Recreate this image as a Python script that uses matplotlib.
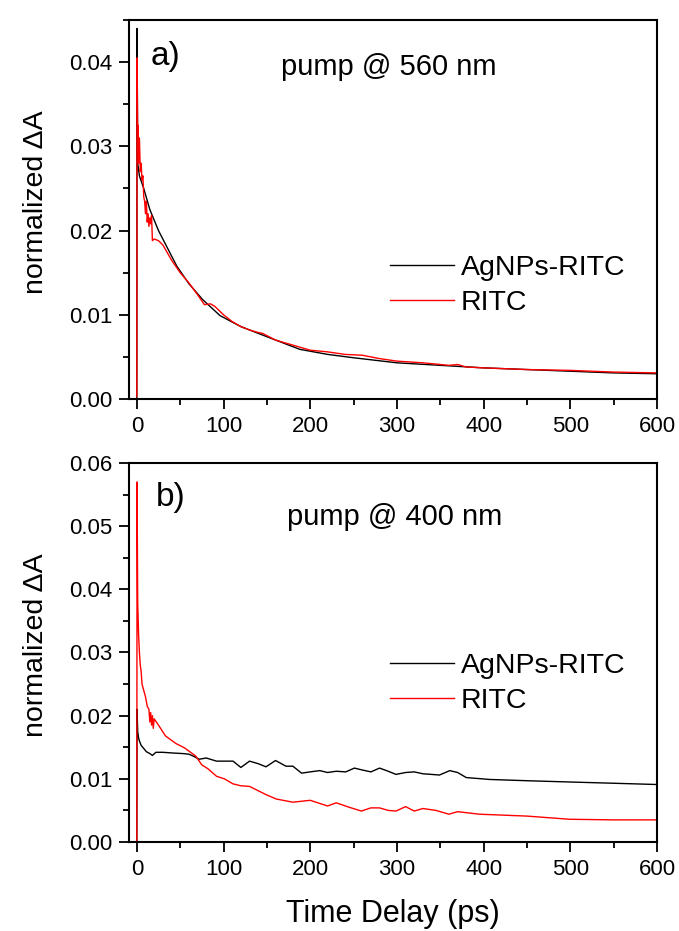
import matplotlib
matplotlib.use("Agg")
import matplotlib.pyplot as plt
from matplotlib.ticker import MultipleLocator, FormatStrFormatter

plt.rcParams['font.family'] = ['Liberation Sans', 'DejaVu Sans']

# ---- data: panel a) pump @ 560 nm ----
t_a_ag = [0, 0.3, 1, 3, 8, 15, 25, 35, 46, 60, 76, 96, 120, 150, 188, 220, 250,
          300, 350, 400, 450, 500, 550, 600]
v_a_ag = [0.0, 0.044, 0.028, 0.0265, 0.025, 0.0225, 0.0200, 0.0180, 0.0158, 0.0137,
          0.0118, 0.0099, 0.0086, 0.0074, 0.0059, 0.0053, 0.0049, 0.0043, 0.0040,
          0.0037, 0.0035, 0.0033, 0.0031, 0.0030]

t_a_ritc = [0, 0.3, 1, 1.5, 2, 3, 4, 5, 6, 7, 8, 9, 10, 11, 12, 13, 14, 15, 16, 17,
            18, 20, 25, 30, 40, 50, 60, 70, 78, 85, 90, 100, 110, 120, 130, 140, 145,
            160, 180, 200, 220, 240, 260, 280, 300, 330, 360, 370, 380, 400, 450,
            500, 550, 600]
v_a_ritc = [0.0003, 0.0405, 0.031, 0.0325, 0.028, 0.031, 0.027, 0.028, 0.026,
            0.0265, 0.024, 0.0235, 0.022, 0.0235, 0.021, 0.022, 0.0205, 0.0215,
            0.0208, 0.0218, 0.0188, 0.0190, 0.0188, 0.0183, 0.0165, 0.0150, 0.0138,
            0.0124, 0.0112, 0.0113, 0.0110, 0.0100, 0.0092, 0.0086, 0.0082, 0.0079,
            0.0078, 0.0070, 0.0064, 0.0058, 0.0056, 0.0053, 0.0052, 0.0048, 0.0045,
            0.0043, 0.0040, 0.0041, 0.0038, 0.0037, 0.0035, 0.0034, 0.0032, 0.0031]

# ---- data: panel b) pump @ 400 nm ----
t_b_ag = [0, 0.3, 1, 2, 3, 5, 8, 11, 15, 18, 22, 30, 40, 53, 60, 65, 72, 80, 92,
          100, 111, 120, 130, 140, 149, 160, 172, 180, 190, 200, 211, 220, 230, 241,
          251, 260, 270, 280, 290, 299, 310, 320, 330, 340, 349, 361, 370, 380,
          407, 450, 499, 550, 600]
v_b_ag = [0.0, 0.021, 0.0175, 0.0165, 0.016, 0.0153, 0.0148, 0.0143, 0.0140,
          0.0137, 0.0142, 0.0142, 0.0141, 0.0140, 0.0139, 0.0136, 0.0131, 0.0133,
          0.0128, 0.0128, 0.0128, 0.0118, 0.0128, 0.0124, 0.0119, 0.0129, 0.0120,
          0.0120, 0.0109, 0.0111, 0.0113, 0.0110, 0.0112, 0.0111, 0.0117, 0.0114,
          0.0111, 0.0117, 0.0112, 0.0107, 0.0110, 0.0111, 0.0108, 0.0107, 0.0106,
          0.0113, 0.0110, 0.0102, 0.0099, 0.0097, 0.0095, 0.0093, 0.0091]

t_b_ritc = [0, 0.3, 1, 2, 3, 4, 5, 6, 8, 10, 12, 14, 15, 16, 17, 18, 19, 20, 25, 33,
            45, 55, 63, 68, 75, 82, 92, 101, 111, 120, 130, 149, 161, 180, 200, 220,
            230, 245, 259, 270, 280, 290, 299, 310, 320, 330, 345, 360, 370, 395,
            450, 499, 550, 600]
v_b_ritc = [0.0, 0.057, 0.038, 0.033, 0.030, 0.028, 0.027, 0.025, 0.024, 0.023,
            0.0215, 0.021, 0.019, 0.0205, 0.0185, 0.020, 0.0180, 0.0195, 0.0185,
            0.0168, 0.0156, 0.0149, 0.0141, 0.0136, 0.0122, 0.0116, 0.0104, 0.0100,
            0.0092, 0.0089, 0.0088, 0.0075, 0.0068, 0.0063, 0.0066, 0.0057, 0.0062,
            0.0055, 0.0049, 0.0054, 0.0054, 0.0050, 0.0049, 0.0056, 0.0049, 0.0053,
            0.0050, 0.0044, 0.0048, 0.0044, 0.0041, 0.0036, 0.0035, 0.0035]

labels = ["AgNPs-RITC", "RITC"]
panel_tags = ["a)", "b)"]
pump_texts = ["pump @ 560 nm", "pump @ 400 nm"]
x_label = "Time Delay (ps)"
y_label = "normalized \u0394A"

fig = plt.figure(figsize=(6.79, 9.31), dpi=100)
ax1 = fig.add_axes([0.190, 0.5714, 0.7776, 0.4071])
ax2 = fig.add_axes([0.190, 0.0956, 0.7776, 0.4071])

panels = [
    (ax1, t_a_ag, v_a_ag, t_a_ritc, v_a_ritc, 0.045, 0.01,
     (0.040, 0.881), (0.288, 0.855), 0.381),
    (ax2, t_b_ag, v_b_ag, t_b_ritc, v_b_ritc, 0.06, 0.01,
     (0.050, 0.8865), (0.300, 0.8356), 0.499),
]

for i, (ax, ta, va, tr, vr, ymax, ystep, tagpos, pumppos, legy) in enumerate(panels):
    ax.plot(ta, va, color='black', lw=1.0, label=labels[0])
    ax.plot(tr, vr, color='#ff0000', lw=1.0, label=labels[1])
    ax.set_xlim(-9, 600)
    ax.set_ylim(0, ymax)
    ax.xaxis.set_major_locator(MultipleLocator(100))
    ax.xaxis.set_minor_locator(MultipleLocator(50))
    ax.yaxis.set_major_locator(MultipleLocator(ystep))
    ax.yaxis.set_minor_locator(MultipleLocator(ystep / 2))
    ax.yaxis.set_major_formatter(FormatStrFormatter('%.2f'))
    ax.tick_params(which='major', direction='out', length=7.2, width=1.3,
                   labelsize=16, top=False, right=False, pad=5)
    ax.tick_params(which='minor', direction='out', length=4.3, width=1.3,
                   top=False, right=False)
    for s in ax.spines.values():
        s.set_linewidth(1.5)
    ax.set_ylabel(y_label, fontsize=20.5)
    ax.yaxis.set_label_coords(-0.152, 0.52)
    ax.text(tagpos[0], tagpos[1], panel_tags[i], transform=ax.transAxes,
            fontsize=24, va='baseline', ha='left')
    ax.text(pumppos[0], pumppos[1], pump_texts[i], transform=ax.transAxes,
            fontsize=21, va='baseline', ha='left')
    ax.legend(loc='upper left', bbox_to_anchor=(0.494, legy), frameon=False,
              fontsize=20.5, handlelength=2.25, handletextpad=0.25, borderpad=0,
              borderaxespad=0, labelspacing=0.33)

ax2.set_xlabel(x_label, fontsize=22, labelpad=14)

fig.savefig("out.png", dpi=100)
